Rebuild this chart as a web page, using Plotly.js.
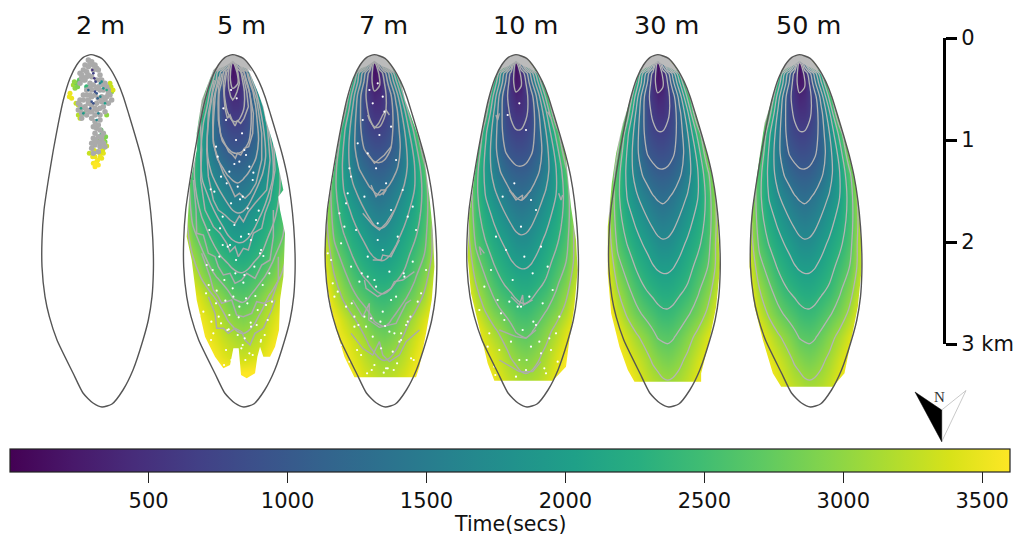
<!DOCTYPE html>
<html><head><meta charset="utf-8">
<script src="https://cdn.plot.ly/plotly-3.0.1.min.js"></script>
<style>html,body{margin:0;padding:0;background:#fff}</style></head>
<body><div id="chart" style="width:1015px;height:536px"></div>
<script>
// Units: one unit = 1/306 km (1/3 px in the reference); x is measured from each plume's apex.
const panelNames = ['2 m','5 m','7 m','10 m','30 m','50 m'];
const gridX = [-180,-150,-120,-90,-65,-45,-30,-15,0,15,30,45,65,90,120,150,180,210,240];
const rows30m = [10,40,70,100,130,170,220,280,340,400,470,540,610,680,750,820,890,960,1030,1100,1160];
const rows50m = [10,40,70,100,130,170,220,280,340,400,470,540,610,680,750,820,890,960,1030,1100,1160];
const rows10m = [10,40,70,99,128,167,216,275,333,391,460,528,597,666,735,803,872,941,1010,1079,1150];
const rows7m  = [10,40,70,98,126,164,211,267,323,380,445,511,577,642,708,773,839,905,970,1036,1110];
const rows5m  = [10,40,70,95,121,155,198,249,300,351,411,470,530,590,650,709,769,829,889,949,1030];
const timeGrid = [
[3600,3600,3600,3600,3600,3600,3600,3600,3600,3600,3600,3600,3600,3600,3600,3600,3600,3600,3600],
[3600,3600,3600,3600,3600,3600,3600,3600,3600,3600,3600,3600,3600,3600,3600,3600,3600,3600,3600],
[3600,3600,3600,3600,3600,3600,2700,1500,100,1300,2500,3600,3600,3600,3600,3600,3600,3600,3600],
[3600,3600,3600,3600,2700,1700,1130,590,150,380,900,1480,2400,3500,3600,3600,3600,3600,3600],
[3600,3600,3600,3250,2290,1510,960,460,240,300,690,1220,1970,3030,3550,3600,3600,3600,3600],
[3600,3600,3600,2900,1900,1150,750,530,380,430,590,860,1500,2500,3450,3600,3600,3600,3600],
[3600,3600,3520,2500,1650,1090,780,630,530,530,630,790,1250,1980,3200,3600,3600,3600,3600],
[3600,3600,2950,2090,1510,1090,860,760,700,700,760,860,1170,1700,2490,3360,3600,3600,3600],
[3600,3450,2700,1960,1470,1150,1000,930,880,875,910,980,1150,1570,2170,3030,3520,3600,3600],
[3600,3150,2510,1920,1560,1330,1210,1120,1070,1060,1080,1150,1300,1570,2020,2650,3340,3600,3600],
[3600,3170,2460,2000,1750,1580,1490,1380,1320,1290,1330,1400,1540,1730,2030,2500,3220,3600,3600],
[3600,3200,2520,2180,1970,1820,1710,1620,1550,1520,1550,1600,1730,1920,2160,2500,3160,3600,3600],
[3600,3270,2640,2350,2160,2030,1950,1850,1770,1740,1750,1810,1940,2090,2300,2580,3200,3600,3600],
[3650,3420,2830,2570,2350,2230,2140,2060,2000,1975,1980,2020,2110,2260,2480,2720,3180,3650,3650],
[3700,3550,3070,2780,2580,2430,2360,2300,2240,2200,2195,2230,2320,2430,2670,2920,3300,3700,3700],
[3800,3700,3290,2990,2810,2690,2610,2540,2470,2430,2425,2460,2550,2680,2860,3120,3500,3800,3800],
[3800,3650,3550,3300,3110,2990,2900,2800,2700,2670,2655,2690,2790,2940,3150,3400,3600,3800,3800],
[3800,3750,3600,3480,3350,3220,3120,3020,2950,2895,2870,2905,2990,3130,3350,3550,3700,3800,3800],
[3800,3800,3700,3600,3480,3380,3290,3220,3170,3110,3090,3110,3170,3290,3480,3650,3800,3800,3800],
[3800,3800,3800,3700,3600,3520,3450,3400,3350,3320,3300,3320,3370,3460,3620,3800,3800,3800,3800],
[3800,3800,3800,3800,3800,3800,3800,3800,3800,3800,3800,3800,3800,3800,3800,3800,3800,3800,3800]];

const outlineX = [0,32,57,79,97,114,132,149,164,175,183,187,187,183,172,156,126,96,63,33,6,-24,-54,-102,-125,-138,-147,-147,-141,-128,-113,-98,-83,-63,-43,-23,0];
const outlineY = [44,55,85,125,170,225,285,345,410,480,560,640,700,770,840,900,990,1050,1092,1101,1089,1059,999,900,830,770,680,600,510,420,330,250,180,115,75,52,44];

const edge5mX = [0,30,52,77,92,100,127,152,137,142,157,152,142,139,127,112,92,82,74,67,42,25,18,2,-8,-28,-53,-83,-108,-123,-138,-133,-128,-108,-108,-93,-58,-23,0];
const edge5mY = [44,60,100,160,200,240,330,450,470,510,580,710,780,870,920,950,950,920,950,1000,1015,1005,925,925,975,985,950,890,780,660,590,510,430,330,280,180,90,55,44];
const edge7mX = [0,32,57,79,92,112,132,149,165,175,180,172,155,135,125,-60,-90,-120,-140,-150,-140,-115,-95,-63,-43,-23,0];
const edge7mY = [44,55,85,125,180,235,290,345,470,570,680,780,880,980,1012,1012,950,850,750,640,510,350,230,115,75,52,44];
const edge10mX = [0,32,57,79,97,114,132,149,165,180,185,175,160,150,110,-65,-85,-110,-135,-145,-140,-113,-98,-83,-63,-43,-23,0];
const edge10mY = [44,55,85,125,170,225,285,345,500,600,690,800,900,980,1022,1022,970,870,760,650,520,330,250,180,115,75,52,44];
const edge30mX = [0,32,57,79,97,114,132,149,164,177,183,187,175,155,130,130,-70,-90,-115,-140,-150,-150,-138,-125,-105,-83,-63,-43,-23,0];
const edge30mY = [44,55,85,125,170,225,285,345,410,490,600,680,800,900,1000,1025,1025,990,920,820,700,560,430,340,250,180,115,75,52,44];
const edge50mX = [0,32,57,79,97,114,132,149,164,177,185,187,175,155,135,100,-55,-80,-110,-135,-150,-145,-120,-105,-83,-63,-43,-23,0];
const edge50mY = [44,55,85,125,170,225,285,345,410,490,600,680,800,900,1000,1040,1040,1000,900,800,680,540,350,250,180,115,75,52,44];

const capX = [0,32,50,58,40,22,8,0,-8,-22,-40,-50,-43,-23,0];
const capY = [44,55,78,95,85,78,68,62,68,78,85,92,75,52,44];

// jagged isochrones of the 5 m panel
const iso5m = [
 {x:[-10,-14,-12,-6,0,6,13,20,16,10],y:[75,110,145,170,180,172,155,130,100,75]},
 {x:[-20,-28,-26,-23,-16,-8,0,7,14,24,34,47,42,32,20],y:[90,130,170,205,235,225,245,258,242,250,235,200,155,110,80]},
 {x:[-32,-42,-44,-43,-36,-25,-12,0,8,14,24,35,48,60,62,47,32],y:[100,140,190,240,285,310,335,345,355,340,345,325,320,280,220,140,90]},
 {x:[-42,-58,-60,-58,-43,-28,-11,7,20,37,52,70,87,87,72,45],y:[110,180,250,310,360,400,430,470,460,475,460,430,360,280,180,100]},
 {x:[-55,-73,-78,-73,-58,-43,-23,-8,7,20,32,47,67,102,112,104,87,55],y:[120,220,330,410,480,510,525,540,550,528,545,515,490,450,360,260,160,100]},
 {x:[-70,-98,-93,-96,-83,-58,-38,-18,-8,7,17,32,47,62,87,97,112,127,122,104,65],y:[125,220,330,420,510,560,580,610,635,620,650,625,630,580,565,520,480,390,290,180,105]},
 {x:[-118,-110,-108,-88,-73,-53,-43,-28,-8,7,27,42,67,87,112,122,122],y:[420,510,580,585,640,650,680,705,700,730,720,700,715,675,660,590,510]},
 {x:[-93,-68,-58,-43,-33,-3,12,32,57,72,92,117,137,137],y:[640,710,750,770,790,780,825,830,820,785,790,780,720,650]},
 {x:[-73,-53,-48,-28,-13,7,27,37,52,67,92,117,127],y:[770,820,865,865,880,865,875,900,915,880,865,810,780]}];

// spiky parts of the 7 m and 10 m isochrones (null breaks the line)
const jag7mX = [-20,-15,0,13,25,35,45,null,-20,0,30,50,null,-10,5,20,35,25,null,-35,-5,15,35,60,null,-5,20,25,50,75,null,-30,-25,10,50,60,85,120,null,-65,-35,-15,-17,15,65,95,110,null,-70,-35,-5,15,25,45,75,95,135];
const jag7mY = [225,240,265,250,225,210,225,null,340,370,345,320,null,435,470,450,450,465,null,520,555,570,550,510,null,660,660,645,650,600,null,720,745,770,745,725,720,695,null,780,830,790,840,862,850,790,780,null,880,925,945,905,945,965,945,905,870];
const jag10mX = [-20,0,20,18,45,null,-15,10,20,22,50,null,-50,0,30,60,null,-50,10,50,75,null,-105,-110,-95,null,-60,-55,-50,null,100,105,95,null,140,135,128];
const jag10mY = [450,480,465,480,450,null,770,795,765,795,780,null,870,890,895,870,null,960,995,995,965,null,645,620,640,null,225,240,220,null,225,235,215,null,465,480,460];

const specks5mX = [-20,10,35,-45,20,50,-10,-35,60,15,-55,30,-5,45,-30,70,5,-70,25,55,-15,85,-40,10,65,-60,35,-25,90,0,-80,40,-50,20,75,-10,105,-35,55,-95,15,-65,85,30,-20,50,-5,12,-28,28,-50,40,5,62,-18,-66,22,78,-38,48,-8,92,-78,8,32,-48,68,-22,100,-88,18,54,-12,-58,36,84,-30,110,-72,2,44,-42,72,-16,96,-92,26,60,-4,118,-64,38,-26,82,-100,14];
const specks5mY = [240,300,330,350,365,380,395,410,420,440,455,470,490,505,530,540,555,570,590,600,620,630,650,660,680,690,705,720,735,745,760,775,790,800,810,825,840,850,860,870,885,900,900,915,930,940,150,175,205,280,320,345,372,398,430,448,478,512,565,582,615,648,675,700,728,752,768,782,795,815,832,848,868,880,895,905,615,700,735,770,790,830,855,870,885,905,925,945,960,785,845,960,975,640,825,1000];
const specks7mX = [10,-15,25,-5,30,-35,50,15,-50,-20,65,5,-70,35,85,-30,-85,50,100,10,-55,70,-100,25,-20,115,-70,45,90,-45,5,-110,65,130,-85,25,-30,100,-60,45,-5,80,-100,20,55,-40,110,-75,0,35,140,-115,75,-25,10,50,-140,-130,-120,-125,155,-105,-90,-80,-75,115,125,-60,-48,-38,-20,0,18,32,60,80,95,108,118,-8,28,-22,40,68,-52,-88,-10,58,-68,88];
const specks7mY = [130,150,170,190,215,240,260,285,310,340,360,385,410,430,450,470,490,510,530,550,570,590,610,630,650,665,680,695,710,725,740,755,770,785,800,815,830,845,860,875,890,900,915,925,935,945,955,965,975,985,760,880,905,860,600,780,640,660,770,730,690,520,560,460,385,500,570,830,855,700,710,720,845,858,880,880,855,830,960,990,998,1000,985,970,930,985,835,990,790,700];
const specks10mX = [10,-25,30,-5,-40,45,60,15,-60,75,-30,25,95,-75,50,-10,-95,110,40,-55,80,5,-110,130,-35,60,20,-80,100,-15,45,-50,75,-100,10,125,-65,30,90,-20,15,52,-45,70,-85,32,105,-62,0,85,-105,120];
const specks10mY = [190,225,270,430,470,480,510,560,590,620,630,650,680,690,700,720,740,750,770,780,790,800,810,830,840,855,870,880,895,905,920,930,940,950,960,965,980,990,1000,785,800,845,820,905,920,960,930,1005,1010,985,900,880];

const t2mUnderX = [12,17,22,32,37,7,27,22,42,32,22,-63,-58,-65,-53,-43,-48,-38,-38,57,62,47,-23,-13,5,8,12,14,20,28,35,40,47,-5,16,25,38,44,30,-50,-40,-35,57,60,66,-45,-33];
const t2mUnderY = [350,365,375,355,340,370,340,305,305,285,305,160,175,170,135,130,145,195,225,145,155,225,220,140,350,330,380,372,360,350,330,322,318,340,335,300,300,290,270,125,140,120,130,140,150,190,235];
const t2mUnderT = [3500,3550,3600,3500,3450,3550,3400,2900,2900,2500,2700,3500,3500,3500,3100,2800,3000,3300,3200,2600,3000,3000,2600,2400,3500,3400,3600,3600,3550,3500,3400,3300,3300,3300,3400,2900,3000,2900,2700,3000,2900,2700,3300,3300,3400,3300,3300];
const t2mOverX = [7,12,2,7,17,27,32,37,-23,22,42,-8,17,10,14,-2,20,4,28,47,-30];
const t2mOverY = [100,155,185,190,160,130,125,145,220,220,190,150,240,115,125,205,175,90,170,150,205];
const t2mOverT = [700,800,900,900,1000,1600,1800,1900,1900,1600,2000,1200,1700,600,750,1000,1100,500,1700,2200,2100];
const grey2mX = [-8,2,-18,12,-23,22,-33,-8,7,27,32,42,17,2,-13,-18,-33,-28,-3,7,17,2,27,37,52,57,62,52,42,32,22,12,-3,-13,-23,-33,-38,-28,-18,-8,2,12,27,37,42,27,12,-3,-13,-28,2,12,7,17,27,37,12,7,22,32,12,27,42,2,7,22,-3,7,17,-13,-28,-23,-8,27,37,47,52,22,-3,-13,-23,-33,-38,-28,-13,2,17,32,47,-8,2,17,27,12,22,32,17,27,2,12,37];
const grey2mY = [60,65,75,75,90,90,100,80,90,105,120,130,120,110,110,120,130,115,130,135,145,150,150,150,150,165,180,190,180,170,175,165,165,165,180,195,210,220,200,190,195,205,205,200,215,225,225,215,225,235,235,245,260,265,270,280,280,295,290,300,315,320,320,325,340,335,70,75,85,95,105,120,105,120,135,140,160,140,145,150,165,180,190,205,210,215,190,185,170,180,170,210,240,260,255,290,305,310,310,300,310];

const scaleValues = [0,1,2,3];
const scaleLabels = ['0','1','2','3 km'];
const cbarTicks = [500,1000,1500,2000,2500,3000,3500];
const arrowDarkX = [10,36.7,36.7,10];
const arrowDarkY = [7,25,56.7,7];
const arrowLightX = [36.7,61,36.7,36.7];
const arrowLightY = [25,5.5,56.7,25];

const FONT = 'DejaVu Sans, sans-serif';
const apexPx = [91,232.7,374.4,516,657.8,799.5];
const X0 = -200, X1 = 260, Y0 = 0, Y1 = 1200;
const fields = [null,
  {rows:rows5m, ex:edge5mX, ey:edge5mY, sx:specks5mX, sy:specks5mY, lines:false},
  {rows:rows7m, ex:edge7mX, ey:edge7mY, sx:specks7mX, sy:specks7mY, jx:jag7mX, jy:jag7mY, lines:true, lc:'#a8a8a8', lw:1.5},
  {rows:rows10m,ex:edge10mX,ey:edge10mY,sx:specks10mX,sy:specks10mY, jx:jag10mX, jy:jag10mY, lines:true, lc:'#adadad', lw:1.4},
  {rows:rows30m,ex:edge30mX,ey:edge30mY, lines:true, lc:'#b4b4b4', lw:1.3},
  {rows:rows50m,ex:edge50mX,ey:edge50mY, lines:true, lc:'#b4b4b4', lw:1.3}];

const traces = [], layout = {
  width:1015,height:536,margin:{l:0,r:0,t:0,b:0,autoexpand:false},paper_bgcolor:'#fff',plot_bgcolor:'rgba(0,0,0,0)',
  showlegend:false,font:{family:FONT,color:'#111',size:20},annotations:[]
};
panelNames.forEach((name,i)=>{
  const n = i+1, xa = 'x'+n, ya = 'y'+n;
  layout['xaxis'+n] = {domain:[(apexPx[i]+X0/3)/1015,(apexPx[i]+X1/3)/1015],range:[X0,X1],visible:false,fixedrange:true,anchor:ya};
  layout['yaxis'+n] = {domain:[1-(40+Y1/3)/536,1-40/536],range:[Y1,Y0],visible:false,fixedrange:true,anchor:xa};
  layout.annotations.push({text:name,xref:xa,yref:'paper',x:27,y:1-25/536,showarrow:false,xanchor:'center',yanchor:'middle',font:{size:25.5,family:FONT,color:'#111'}});
  const f = fields[i];
  if(f){
    traces.push({type:'contour',x:gridX,y:f.rows,z:timeGrid,xaxis:xa,yaxis:ya,colorscale:'Viridis',zauto:false,zmin:1,zmax:3600,autocontour:false,
      contours:{coloring:'heatmap',start:340,end:3060,size:340,showlines:f.lines},line:{color:f.lc||'#aeaeae',width:f.lw||1.5,smoothing:1},showscale:false,hoverinfo:'skip'});
    const rx = f.ex.slice().reverse(), ry = f.ey.slice().reverse();
    if(!f.lines) iso5m.forEach(l=>traces.push({type:'scatter',mode:'lines',xaxis:xa,yaxis:ya,x:l.x,y:l.y,line:{color:'#ababab',width:1.5},hoverinfo:'skip'}));
    if(f.jx) traces.push({type:'scatter',mode:'lines',xaxis:xa,yaxis:ya,x:f.jx,y:f.jy,line:{color:'#ababab',width:1.4},hoverinfo:'skip'});
    traces.push({type:'scatter',mode:'lines',xaxis:xa,yaxis:ya,fill:'toself',fillcolor:'#fff',line:{width:0,color:'#fff'},hoverinfo:'skip',
      x:[X0-5,X1+5,X1+5,X0-5,X0-5].concat(rx,[X0-5]),y:[-5,-5,Y1+5,Y1+5,-5].concat(ry,[-5])});
    traces.push({type:'scatter',mode:'lines',xaxis:xa,yaxis:ya,fill:'toself',fillcolor:'#bbbbbb',line:{width:0,color:'#bbbbbb'},x:capX,y:capY,hoverinfo:'skip'});
    if(f.sx) traces.push({type:'scatter',mode:'markers',xaxis:xa,yaxis:ya,x:f.sx,y:f.sy,marker:{size:2.2,color:'#fff'},hoverinfo:'skip'});
  } else {
    const vir = {colorscale:'Viridis',cmin:1,cmax:3600,line:{width:0}};
    traces.push({type:'scatter',mode:'markers',xaxis:xa,yaxis:ya,x:t2mUnderX,y:t2mUnderY,marker:Object.assign({size:5,color:t2mUnderT},vir),hoverinfo:'skip'});
    traces.push({type:'scatter',mode:'markers',xaxis:xa,yaxis:ya,x:grey2mX,y:grey2mY,marker:{size:5.5,color:'#aaaaaa',line:{width:0}},hoverinfo:'skip'});
    traces.push({type:'scatter',mode:'markers',xaxis:xa,yaxis:ya,x:t2mOverX,y:t2mOverY,marker:Object.assign({size:2.6,color:t2mOverT},vir),hoverinfo:'skip'});
  }
  traces.push({type:'scatter',mode:'lines',xaxis:xa,yaxis:ya,x:outlineX,y:outlineY,line:{color:'#555',width:1.4,shape:'spline',smoothing:0.6},hoverinfo:'skip'});
});
// scale bar: a real axis in km
layout.xaxis7 = {domain:[930/1015,940/1015],range:[0,1],visible:false,fixedrange:true,anchor:'y7'};
layout.yaxis7 = {domain:[1-344/536,1-38/536],range:[3,0],side:'right',anchor:'free',position:944/1015,fixedrange:true,showgrid:false,zeroline:false,
  showline:true,linecolor:'#000',linewidth:3,ticks:'outside',ticklen:11,tickwidth:3,tickcolor:'#000',tickvals:scaleValues,ticktext:scaleLabels,tickfont:{size:21,family:FONT,color:'#111'}};
traces.push({type:'scatter',mode:'lines',xaxis:'x7',yaxis:'y7',x:[0,0],y:[0,3],line:{width:0},hoverinfo:'skip'});
// north arrow
layout.xaxis8 = {domain:[905/1015,975/1015],range:[0,70],visible:false,fixedrange:true,anchor:'y8'};
layout.yaxis8 = {domain:[1-445/536,1-385/536],range:[60,0],visible:false,fixedrange:true,anchor:'x8'};
traces.push({type:'scatter',mode:'lines',xaxis:'x8',yaxis:'y8',x:arrowLightX,y:arrowLightY,fill:'toself',fillcolor:'#fff',line:{color:'#bbb',width:0.8},hoverinfo:'skip'});
traces.push({type:'scatter',mode:'lines',xaxis:'x8',yaxis:'y8',x:arrowDarkX,y:arrowDarkY,fill:'toself',fillcolor:'#000',line:{color:'#000',width:0.5},hoverinfo:'skip'});
layout.annotations.push({text:'N',xref:'x8',yref:'y8',x:34,y:12,showarrow:false,font:{family:'Liberation Serif, serif',size:15,color:'#333'}});
// colour bar title, placed so its brackets stay inside the page
layout.annotations.push({text:'Time(secs)',xref:'paper',yref:'paper',x:510/1015,y:1-524/536,showarrow:false,xanchor:'center',yanchor:'middle',font:{size:20.5,family:FONT,color:'#111'}});
// colour bar carrier
layout.xaxis9 = {domain:[0,0.001],range:[0,1],visible:false,fixedrange:true,anchor:'y9'};
layout.yaxis9 = {domain:[0,0.001],range:[0,1],visible:false,fixedrange:true,anchor:'x9'};
traces.push({type:'heatmap',xaxis:'x9',yaxis:'y9',x:[5,6],y:[5,6],z:[[1,3600],[1,3600]],colorscale:'Viridis',zmin:1,zmax:3600,hoverinfo:'skip',
  colorbar:{orientation:'h',x:10/1015,xanchor:'left',y:1-449/536,yanchor:'top',lenmode:'pixels',len:1000,thicknessmode:'pixels',thickness:23,xpad:0,ypad:0,
    outlinecolor:'#222',outlinewidth:1.2,ticks:'outside',ticklen:11,tickwidth:1.2,tickcolor:'#222',tickvals:cbarTicks,tickfont:{size:21,family:FONT,color:'#111'}}});
Plotly.newPlot('chart',traces,layout,{staticPlot:true,displayModeBar:false});
</script></body></html>
